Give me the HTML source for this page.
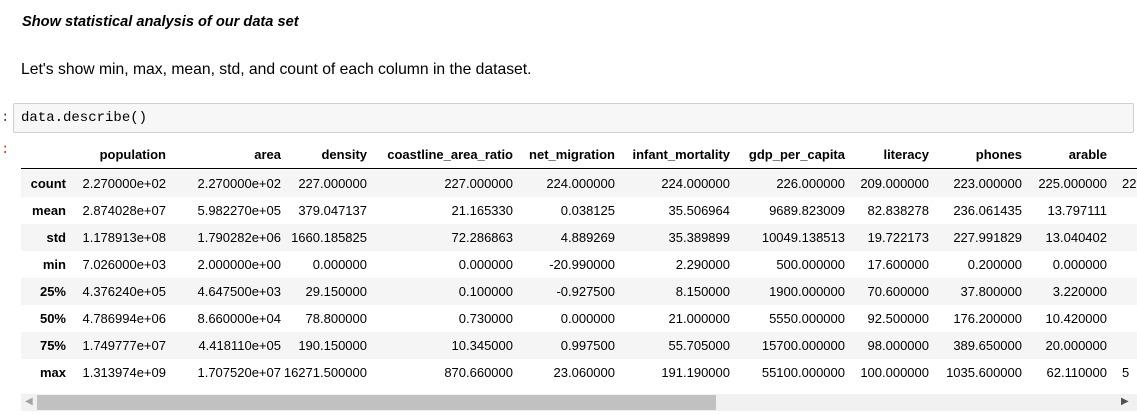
<!DOCTYPE html>
<html><head><meta charset="utf-8"><style>
body{margin:0;width:1137px;height:415px;background:#fff;overflow:hidden;position:relative;font-family:"Liberation Sans",Arial,sans-serif;color:#000}
.a{position:absolute;white-space:nowrap}
.c{position:absolute;font-size:13px;line-height:27px;text-align:right;white-space:nowrap}
</style></head><body>
<div class="a" style="left:22px;top:14px;font-size:14.6px;font-weight:bold;font-style:italic">Show statistical analysis of our data set</div>
<div class="a" style="left:21px;top:61px;font-size:15.7px">Let's show min, max, mean, std, and count of each column in the dataset.</div>
<div class="a" style="left:1px;top:110px;font-size:14px;color:#303f9f;font-family:'Liberation Mono',monospace">:</div>
<div class="a" style="left:13px;top:103px;width:1119px;height:28px;background:#f7f7f7;border:1px solid #cfcfcf;border-radius:2px"></div>
<div class="a" style="left:21px;top:110px;font-size:14px;font-family:'Liberation Mono',monospace">data.describe()</div>
<div class="a" style="left:1px;top:142px;font-size:14px;color:#d84315;font-family:'Liberation Mono',monospace">:</div>
<div id="tbl"></div>
<div class="a" style="left:21px;top:394px;width:1116px;height:17px;background:#f1f1f1"></div>
<div class="a" style="left:37px;top:395px;width:679px;height:15px;background:#c1c1c1"></div>
<div class="a" style="left:25px;top:396px;font-size:10px;color:#a3a3a3">&#9664;</div>
<div class="a" style="left:1121px;top:396px;font-size:10px;color:#505050">&#9654;</div>
<script>
const columns=["population","area","density","coastline_area_ratio","net_migration","infant_mortality","gdp_per_capita","literacy","phones","arable",""];
const rowLabels=["count","mean","std","min","25%","50%","75%","max"];
const values=[
["2.270000e+02","2.270000e+02","227.000000","227.000000","224.000000","224.000000","226.000000","209.000000","223.000000","225.000000","22"],
["2.874028e+07","5.982270e+05","379.047137","21.165330","0.038125","35.506964","9689.823009","82.838278","236.061435","13.797111",""],
["1.178913e+08","1.790282e+06","1660.185825","72.286863","4.889269","35.389899","10049.138513","19.722173","227.991829","13.040402",""],
["7.026000e+03","2.000000e+00","0.000000","0.000000","-20.990000","2.290000","500.000000","17.600000","0.200000","0.000000",""],
["4.376240e+05","4.647500e+03","29.150000","0.100000","-0.927500","8.150000","1900.000000","70.600000","37.800000","3.220000",""],
["4.786994e+06","8.660000e+04","78.800000","0.730000","0.000000","21.000000","5550.000000","92.500000","176.200000","10.420000",""],
["1.749777e+07","4.418110e+05","190.150000","10.345000","0.997500","55.705000","15700.000000","98.000000","389.650000","20.000000",""],
["1.313974e+09","1.707520e+07","16271.500000","870.660000","23.060000","191.190000","55100.000000","100.000000","1035.600000","62.110000","5"]];
const colRight=[166,281,367,513,615,730,845,929,1022,1107,1137];
const t=document.getElementById('tbl');
function add(txt,right,top,bold,name){
 const d=document.createElement('div');d.className='c';d.textContent=txt;
 d.style.right=(1137-right)+'px';d.style.top=top+'px';if(bold)d.style.fontWeight='bold';
 
 
 t.appendChild(d);
}
columns.forEach((c,i)=>{ if(c) add(c,colRight[i],141,true,'header-'+c); });
const line=document.createElement('div');line.className='a';
line.style.cssText='left:21px;top:168px;width:1116px;height:1px;background:#000';


t.appendChild(line);
rowLabels.forEach((r,ri)=>{
 const top=170+ri*27;
 if(ri%2==0){const b=document.createElement('div');b.className='a';
  b.style.cssText='left:21px;top:'+top+'px;width:1116px;height:27px;background:#f5f5f5';
  
  
  t.appendChild(b);}
 add(r,66,top,true,'row-label-'+r);
 values[ri].forEach((v,ci)=>{ if(v){
  if(ci==10){const d=document.createElement('div');d.className='a';d.style.cssText='left:1122px;top:'+top+'px;font-size:13px;line-height:27px';d.textContent=v;
   
   
   t.appendChild(d);}
  else add(v,colRight[ci],top,false,'cell'); }});
});
</script>
</body></html>
